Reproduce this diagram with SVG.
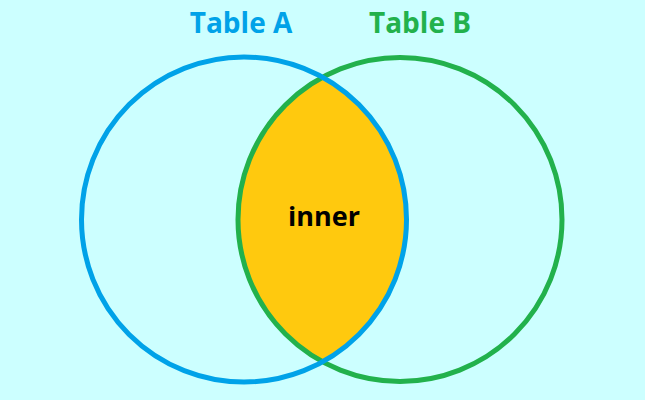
<svg xmlns="http://www.w3.org/2000/svg" width="645" height="400" viewBox="0 0 645 400">
<style>
.lbl{font-family:"Open Sans","Liberation Sans",sans-serif;font-weight:bold;text-anchor:middle}
.ring{fill:none;stroke-width:5}
</style>
<defs>
<clipPath id="clipA"><circle cx="244" cy="219.5" r="162.5"/></clipPath>
</defs>
<rect width="645" height="400" fill="#ccffff"/>
<g id="intersection">
<circle cx="400" cy="219.5" r="162" fill="#ffc90e" clip-path="url(#clipA)"/>
</g>
<g id="tableB">
<circle class="ring" cx="400" cy="219.5" r="162" stroke="#22b14c"/>
<text class="lbl" x="420" y="33" font-size="28" fill="#22b14c">Table B</text>
</g>
<g id="tableA">
<circle class="ring" cx="244" cy="219.5" r="162.5" stroke="#00a2e8"/>
<text class="lbl" x="241" y="33" font-size="28" fill="#00a2e8">Table A</text>
</g>
<g id="inner">
<text class="lbl" x="324" y="226" font-size="27" fill="#000">inner</text>
</g>
</svg>
